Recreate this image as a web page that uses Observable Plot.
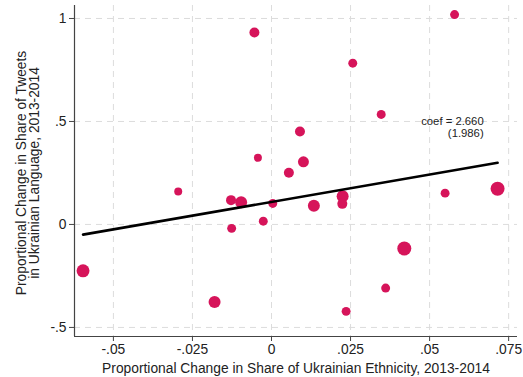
<!DOCTYPE html>
<html>
<head>
<meta charset="utf-8">
<script src="https://cdn.jsdelivr.net/npm/d3@7"></script>
<script src="https://cdn.jsdelivr.net/npm/@observablehq/plot@0.6"></script>
<style>
  html, body { margin: 0; padding: 0; background: #fff; }
  #chart svg { display: block; }
</style>
</head>
<body>
<div id="chart"></div>
<script>
// Proportional change in share of Ukrainian ethnicity (x) and Ukrainian-language tweets (y)
const ethnicityChange = [0.0579, -0.0054, 0.0257, 0.0347, 0.0090, -0.0043, 0.0101, 0.0055,
  -0.0295, -0.0128, -0.0096, 0.0004, 0.0134, 0.0225, 0.0224, 0.0549, 0.0715, -0.0026,
  -0.0126, 0.0420, -0.0596, -0.0180, 0.0361, 0.0236];
const tweetChange = [1.019, 0.932, 0.783, 0.534, 0.451, 0.324, 0.304, 0.251,
  0.160, 0.118, 0.108, 0.102, 0.091, 0.137, 0.100, 0.152, 0.173, 0.016,
  -0.019, -0.117, -0.225, -0.377, -0.309, -0.422];
const weight = [20, 25, 20, 20, 25, 16, 30, 25,
  16, 25, 36, 20, 36, 36, 25, 20, 49, 20,
  20, 49, 42, 36, 20, 20];
const coef = 2.660;
const stdErr = 1.986;
const intercept = 0.109;
const xTicks = [-0.05, -0.025, 0, 0.025, 0.05, 0.075];
const yTicks = [-0.5, 0, 0.5, 1];
const xLabel = "Proportional Change in Share of Ukrainian Ethnicity, 2013-2014";
const yLabel = "Proportional Change in Share of Tweets\nin Ukrainian Language, 2013-2014";

const points = ethnicityChange.map((x, i) => ({x, y: tweetChange[i], w: weight[i]}));
const [xmin, xmax] = d3.extent(ethnicityChange);
const fit = [xmin, xmax].map(x => ({x, y: intercept + coef * x}));

const fmt = d => d === 0 ? "0" : String(d).replace("0.", ".");
const xDomain = [-0.0623, 0.0778];
const yDomain = [-0.544, 1.063];

const chart = Plot.plot({
  width: 523,
  height: 377,
  marginLeft: 74,
  marginRight: 6,
  marginTop: 5,
  marginBottom: 41,
  style: {fontFamily: "'Liberation Sans', Arial, sans-serif", fontSize: "13.8px", color: "#222", background: "#fff"},
  x: {domain: xDomain},
  y: {domain: yDomain},
  r: {type: "sqrt", domain: [0, 49], range: [0, 7]},
  marks: [
    Plot.gridX(xTicks, {stroke: "#dcdcdc", strokeOpacity: 1, strokeDasharray: "6,5"}),
    Plot.gridY(yTicks, {stroke: "#dcdcdc", strokeOpacity: 1, strokeDasharray: "6,5"}),
    Plot.axisX(xTicks, {tickFormat: fmt, tickSize: 5, tickPadding: 3, label: null, stroke: "#444", fill: "#222"}),
    Plot.axisY(yTicks, {tickFormat: fmt, tickSize: 5, tickPadding: 3, label: null, stroke: "#444", fill: "#222"}),
    Plot.ruleX([xDomain[0]], {stroke: "#444", strokeWidth: 1.2}),
    Plot.ruleY([yDomain[0]], {stroke: "#444", strokeWidth: 1.2}),
    Plot.dot(points, {x: "x", y: "y", r: "w", fill: "#d6145a", stroke: "none"}),
    Plot.line(fit, {x: "x", y: "y", stroke: "#000", strokeWidth: 2.6}),
    Plot.text([`coef = ${coef.toFixed(3)}\n(${stdErr.toFixed(3)})`], {
      x: 0.0671, y: 0.5, textAnchor: "end", lineAnchor: "middle", dy: 6,
      fontSize: 11.3, lineHeight: 1.05, fill: "#222"
    }),
    Plot.text([xLabel], {frameAnchor: "bottom", dy: 32, textAnchor: "middle", lineAnchor: "middle", fill: "#222"}),
    Plot.text([yLabel], {frameAnchor: "left", dx: -46.5, dy: 2, rotate: -90, textAnchor: "middle", lineAnchor: "middle", lineHeight: 1.0, fill: "#222"})
  ]
});
document.getElementById("chart").appendChild(chart);
</script>
</body>
</html>
